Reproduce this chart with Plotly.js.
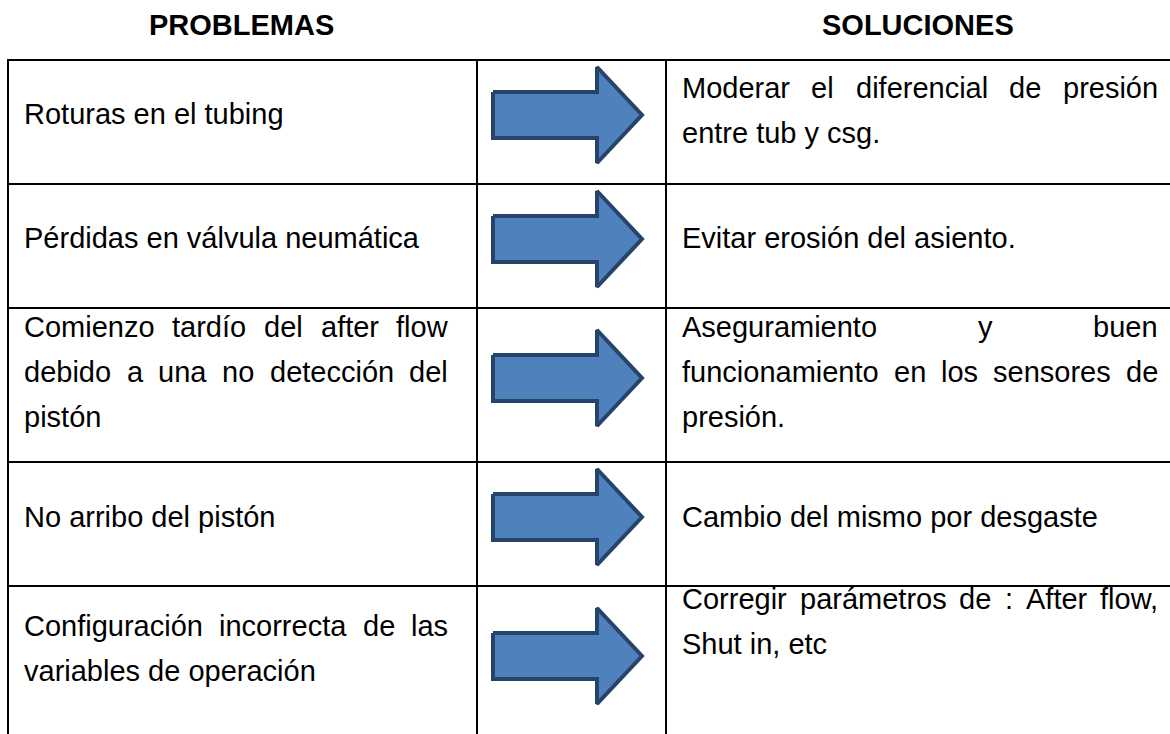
<!DOCTYPE html>
<html>
<head>
<meta charset="utf-8">
<script src="https://cdn.plot.ly/plotly-3.0.1.min.js"></script>
<style>
  html, body { margin: 0; padding: 0; background: #ffffff; }
  #chart { width: 1170px; height: 734px; }
</style>
</head>
<body>
<div id="chart"></div>
<script>
// ---------------- DATA ----------------
const headers = ["PROBLEMAS", "SOLUCIONES"];

const problemLines = [
  ["Roturas en el tubing"],
  ["Pérdidas en válvula neumática"],
  ["Comienzo tardío del after flow", "debido a una no detección del", "pistón"],
  ["No arribo del pistón"],
  ["Configuración incorrecta de las", "variables de operación"]
];

const solutionLines = [
  ["Moderar el diferencial de presión", "entre tub y csg."],
  ["Evitar erosión del asiento."],
  ["Aseguramiento y buen", "funcionamiento en los sensores de", "presión."],
  ["Cambio del mismo por desgaste"],
  ["Corregir parámetros de : After flow,", "Shut in, etc"]
];

// ---------------- LAYOUT GEOMETRY ----------------
const W = 1170, H = 734;
const FS = 29;
const FONT = "'Liberation Sans', Arial, sans-serif";
const rowEdges = [60, 184, 308, 462, 586, 740];
const colEdges = [8, 477, 666];
const tableRight = 1200;
const lineGap = 45;
const probFirstBaseline = [124, 248, 337, 527, 636];
const solFirstBaseline  = [98, 248, 337, 527, 609];
const probX = [23, 447];
const solX = [681, 1157];

const canvas = document.createElement("canvas");
const ctx = canvas.getContext("2d");
ctx.font = FS + "px " + FONT;
function tw(s) { return ctx.measureText(s).width; }

const annotations = [];
function addText(txt, x, baseline, opts) {
  annotations.push(Object.assign({
    x: x, y: baseline - 0.345 * FS, xref: "x", yref: "y",
    text: txt, showarrow: false, xanchor: "left", yanchor: "middle",
    borderpad: 0, font: { family: FONT, size: FS, color: "#000000" }
  }, opts || {}));
}

function layoutCell(lines, firstBaseline, xr) {
  lines.forEach((ln, i) => {
    const base = firstBaseline + i * lineGap;
    const last = (i === lines.length - 1);
    const words = ln.split(" ");
    if (last || words.length < 2) {
      addText(ln, xr[0], base);
    } else {
      const widths = words.map(tw);
      const sum = widths.reduce((a, b) => a + b, 0);
      const gap = (xr[1] - xr[0] - sum) / (words.length - 1);
      let x = xr[0];
      words.forEach((w, k) => { addText(w, x, base); x += widths[k] + gap; });
    }
  });
}

problemLines.forEach((lines, r) => layoutCell(lines, probFirstBaseline[r], probX));
solutionLines.forEach((lines, r) => layoutCell(lines, solFirstBaseline[r], solX));

// headers
[[headers[0], 241], [headers[1], 918]].forEach(([t, cx]) => {
  annotations.push({
    x: cx, y: 35 - 0.345 * FS, xref: "x", yref: "y", text: "<b>" + t + "</b>",
    showarrow: false, xanchor: "center", yanchor: "middle", borderpad: 0,
    font: { family: FONT, size: FS, color: "#000000" }
  });
});

// table lines
const shapes = [];
rowEdges.forEach(y => shapes.push({
  type: "line", xref: "x", yref: "y", x0: colEdges[0] - 1, x1: tableRight, y0: y, y1: y,
  line: { color: "#000000", width: 2 }
}));
colEdges.forEach(x => shapes.push({
  type: "line", xref: "x", yref: "y", x0: x, x1: x, y0: rowEdges[0] - 1, y1: rowEdges[rowEdges.length - 1],
  line: { color: "#000000", width: 2 }
}));

// arrows
const traces = [];
const xL = 493, xB = 597, xT = 642, shaftHalf = 23, headHalf = 48;
for (let r = 0; r < problemLines.length; r++) {
  const cy = (rowEdges[r] + rowEdges[r + 1]) / 2 - 7;
  traces.push({
    type: "scatter", mode: "lines", fill: "toself",
    x: [xL, xB, xB, xT, xB, xB, xL, xL],
    y: [cy - shaftHalf, cy - shaftHalf, cy - headHalf, cy, cy + headHalf, cy + shaftHalf, cy + shaftHalf, cy - shaftHalf],
    fillcolor: "#4F81BD",
    line: { color: "#26436A", width: 4 },
    hoverinfo: "skip", showlegend: false
  });
}

const layout = {
  width: W, height: H,
  margin: { l: 0, r: 0, t: 0, b: 0 },
  paper_bgcolor: "#ffffff", plot_bgcolor: "#ffffff",
  xaxis: { range: [0, W], visible: false, fixedrange: true },
  yaxis: { range: [H, 0], visible: false, fixedrange: true },
  shapes: shapes,
  annotations: annotations,
  showlegend: false
};

Plotly.newPlot("chart", traces, layout, { staticPlot: true, displayModeBar: false });
</script>
</body>
</html>
